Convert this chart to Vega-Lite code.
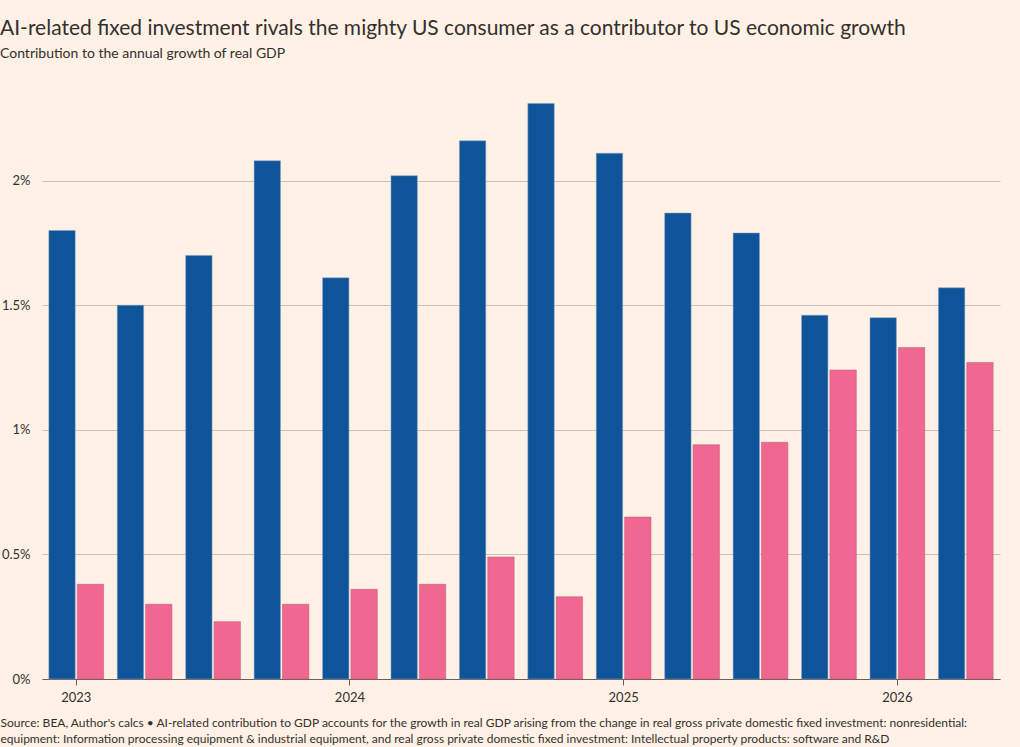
{
  "$schema": "https://vega.github.io/schema/vega-lite/v6.json",
  "width": 958,
  "height": 598,
  "padding": {"left": 0, "top": 18, "right": 20, "bottom": 4},
  "background": "#fff1e5",
  "title": {
    "text": "AI-related fixed investment rivals the mighty US consumer as a contributor to US economic growth",
    "subtitle": "Contribution to the annual growth of real GDP",
    "anchor": "start",
    "frame": "bounds",
    "font": "Lato",
    "fontSize": 21,
    "fontWeight": "normal",
    "color": "#33302e",
    "subtitleFont": "Lato",
    "subtitleFontSize": 14,
    "subtitleColor": "#33302e",
    "subtitlePadding": 8,
    "offset": 20
  },
  "config": {
    "view": {"stroke": null},
    "font": "Lato"
  },
  "data": {
    "values": [
      {"quarter": "2023 Q1", "series": "US consumer", "value": 1.80},
      {"quarter": "2023 Q1", "series": "AI-related fixed investment", "value": 0.38},
      {"quarter": "2023 Q2", "series": "US consumer", "value": 1.50},
      {"quarter": "2023 Q2", "series": "AI-related fixed investment", "value": 0.30},
      {"quarter": "2023 Q3", "series": "US consumer", "value": 1.70},
      {"quarter": "2023 Q3", "series": "AI-related fixed investment", "value": 0.23},
      {"quarter": "2023 Q4", "series": "US consumer", "value": 2.08},
      {"quarter": "2023 Q4", "series": "AI-related fixed investment", "value": 0.30},
      {"quarter": "2024 Q1", "series": "US consumer", "value": 1.61},
      {"quarter": "2024 Q1", "series": "AI-related fixed investment", "value": 0.36},
      {"quarter": "2024 Q2", "series": "US consumer", "value": 2.02},
      {"quarter": "2024 Q2", "series": "AI-related fixed investment", "value": 0.38},
      {"quarter": "2024 Q3", "series": "US consumer", "value": 2.16},
      {"quarter": "2024 Q3", "series": "AI-related fixed investment", "value": 0.49},
      {"quarter": "2024 Q4", "series": "US consumer", "value": 2.31},
      {"quarter": "2024 Q4", "series": "AI-related fixed investment", "value": 0.33},
      {"quarter": "2025 Q1", "series": "US consumer", "value": 2.11},
      {"quarter": "2025 Q1", "series": "AI-related fixed investment", "value": 0.65},
      {"quarter": "2025 Q2", "series": "US consumer", "value": 1.87},
      {"quarter": "2025 Q2", "series": "AI-related fixed investment", "value": 0.94},
      {"quarter": "2025 Q3", "series": "US consumer", "value": 1.79},
      {"quarter": "2025 Q3", "series": "AI-related fixed investment", "value": 0.95},
      {"quarter": "2025 Q4", "series": "US consumer", "value": 1.46},
      {"quarter": "2025 Q4", "series": "AI-related fixed investment", "value": 1.24},
      {"quarter": "2026 Q1", "series": "US consumer", "value": 1.45},
      {"quarter": "2026 Q1", "series": "AI-related fixed investment", "value": 1.33},
      {"quarter": "2026 Q2", "series": "US consumer", "value": 1.57},
      {"quarter": "2026 Q2", "series": "AI-related fixed investment", "value": 1.27}
    ]
  },
  "mark": {"type": "bar", "strokeWidth": 1, "strokeOpacity": 0.5},
  "encoding": {
    "x": {
      "field": "quarter",
      "type": "ordinal",
      "sort": null,
      "scale": {"paddingInner": 0.2, "paddingOuter": 0.1},
      "axis": {
        "values": ["2023 Q1", "2024 Q1", "2025 Q1", "2026 Q1"],
        "labelExpr": "slice(datum.value, 0, 4)",
        "bandPosition": 0.5,
        "labelAngle": 0,
        "labelFontSize": 13,
        "labelColor": "#33302e",
        "labelPadding": 6,
        "tickSize": 6,
        "tickColor": "#66605c",
        "domainColor": "#66605c",
        "title": [
          "Source: BEA, Author's calcs \u2022 AI-related contribution to GDP accounts for the growth in real GDP arising from the change in real gross private domestic fixed investment: nonresidential:",
          "equipment: Information processing equipment & industrial equipment, and real gross private domestic fixed investment: Intellectual property products: software and R&D"
        ],
        "titleFontSize": 12,
        "titleFontWeight": "normal",
        "titleColor": "#33302e",
        "titleAnchor": "start",
        "titleAlign": "left",
        "titleBaseline": "alphabetic",
        "titleLineHeight": 16,
        "titleX": -42,
        "titleY": 47
      }
    },
    "xOffset": {
      "field": "series",
      "type": "nominal",
      "sort": ["US consumer", "AI-related fixed investment"],
      "scale": {"paddingInner": 0.07}
    },
    "y": {
      "field": "value",
      "type": "quantitative",
      "scale": {"domain": [0, 2.4]},
      "axis": {
        "values": [0, 0.5, 1, 1.5, 2],
        "labelExpr": "datum.value + '%'",
        "domain": false,
        "ticks": false,
        "labelPadding": 12,
        "labelFontSize": 13,
        "labelColor": "#33302e",
        "gridColor": "#c9c0b7",
        "title": null
      }
    },
    "color": {
      "field": "series",
      "type": "nominal",
      "scale": {
        "domain": ["US consumer", "AI-related fixed investment"],
        "range": ["#0f5499", "#f06892"]
      },
      "legend": null
    },
    "stroke": {
      "field": "series",
      "type": "nominal",
      "scale": {
        "domain": ["US consumer", "AI-related fixed investment"],
        "range": ["#7fa3c9", "#b9586f"]
      },
      "legend": null
    }
  }
}
